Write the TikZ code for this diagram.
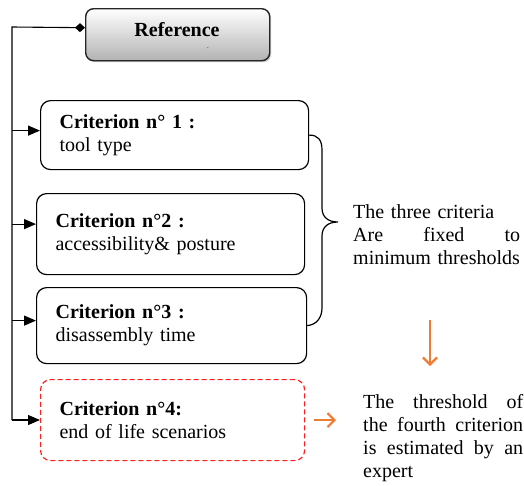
\documentclass[tikz,border=0pt]{standalone}
\usepackage{fontspec}
\setmainfont{Liberation Serif}
\usetikzlibrary{arrows.meta,shadows,calc}
\definecolor{orng}{RGB}{237,125,49}
\definecolor{dred}{RGB}{250,30,30}
\newcommand\jline[2]{\leavevmode\hbox to #1{#2}}
\begin{document}
\begin{tikzpicture}[x=1pt,y=-1pt,
  every node/.style={font=\fontsize{20}{23}\selectfont},
  crit/.style={draw, rounded corners=10pt, line width=1.2pt, anchor=north west,
    minimum width=#1, text width=#1-38pt, inner xsep=19pt, inner ysep=0pt, align=left},
  crit/.default=268pt,
  feed/.style={-{Triangle[length=12pt,width=10pt]}, line width=1.1pt},
  oarrow/.style={orng, line width=2.2pt, -{Straight Barb[length=7pt,width=14pt]}},
  txt/.style={inner sep=0pt, anchor=north west, align=left}]
\useasboundingbox (0,0) rectangle (524,485);

% reference box
\node[draw=black!85, line width=1.4pt, rounded corners=8pt, anchor=north west,
  minimum width=184pt, minimum height=52pt, top color=white, bottom color=black!30,
  drop shadow={shadow xshift=1.5pt, shadow yshift=-1.5pt, opacity=0.45}] (ref) at (85,8) {};
\node[font=\fontsize{20}{23}\selectfont\bfseries] (reftxt) at (177,30) {Reference};
\node[font=\fontsize{7}{7}\selectfont, inner sep=0pt] (dot) at (208,48) {.};

% criteria boxes
\node[crit, minimum height=69pt] (b1) at (40,100) {\textbf{Criterion n° 1 :}\\tool type};
\node[crit, minimum height=81pt] (b2) at (36,193) {\textbf{Criterion n°2 :}\\accessibility\& posture};
\node[crit, minimum height=76pt, minimum width=270pt, text width=232pt] (b3) at (36,287) {\textbf{Criterion n°3 :}\\disassembly time};
\node[crit, minimum height=81pt, minimum width=264pt, text width=226pt, draw=dred,
  dash pattern=on 5pt off 3pt] (b4) at (40,379) {\textbf{Criterion n°4:}\\end of life scenarios};

% bus
\coordinate (bustop) at (12,27);
\coordinate (busbot) at (12,420);
\draw[line width=1.1pt, {Diamond[length=10pt,width=9pt]}-] ([yshift=7pt]ref.west) -- (bustop) -- (busbot);
\draw[feed] ([yshift=4.5pt]b1.west -| bustop) -- ([yshift=4.5pt]b1.west);
\draw[feed] ([yshift=10pt]b2.west -| bustop) -- ([yshift=10pt]b2.west);
\draw[feed] ([yshift=5pt]b3.west -| bustop) -- ([yshift=5pt]b3.west);
\draw[feed] (busbot) -- (b4.west |- busbot);

% brace
\coordinate (tip) at (338,222);
\draw[line width=1.2pt] (b1.east) .. controls (318,135) and (322,140) .. (322,150) -- (322,208)
  .. controls (322,217) and (328,222) .. (tip) .. controls (328,222) and (322,227) .. (322,236)
  -- (322,308) .. controls (322,318) and (316,325) .. (b3.east);

% texts
\node[txt, text width=167pt] (t1) at (353,204) {The three criteria\\
  \jline{167pt}{Are\hfill fixed\hfill to}\\minimum thresholds};
\node[txt, text width=160pt] (t2) at (363,394) {\jline{160pt}{The\hfill threshold\hfill of}\\
  \jline{160pt}{the\hfill fourth\hfill criterion}\\
  \jline{160pt}{is\hfill estimated\hfill by\hfill an}\\expert};

% orange arrows
\coordinate (d1) at (430,320);
\coordinate (d2) at (430,366);
\draw[oarrow] (d1) -- (d2);
\draw[oarrow] ([xshift=9pt]b4.east) -- ([xshift=-27pt]b4.east -| t2.west);
\end{tikzpicture}
\end{document}
